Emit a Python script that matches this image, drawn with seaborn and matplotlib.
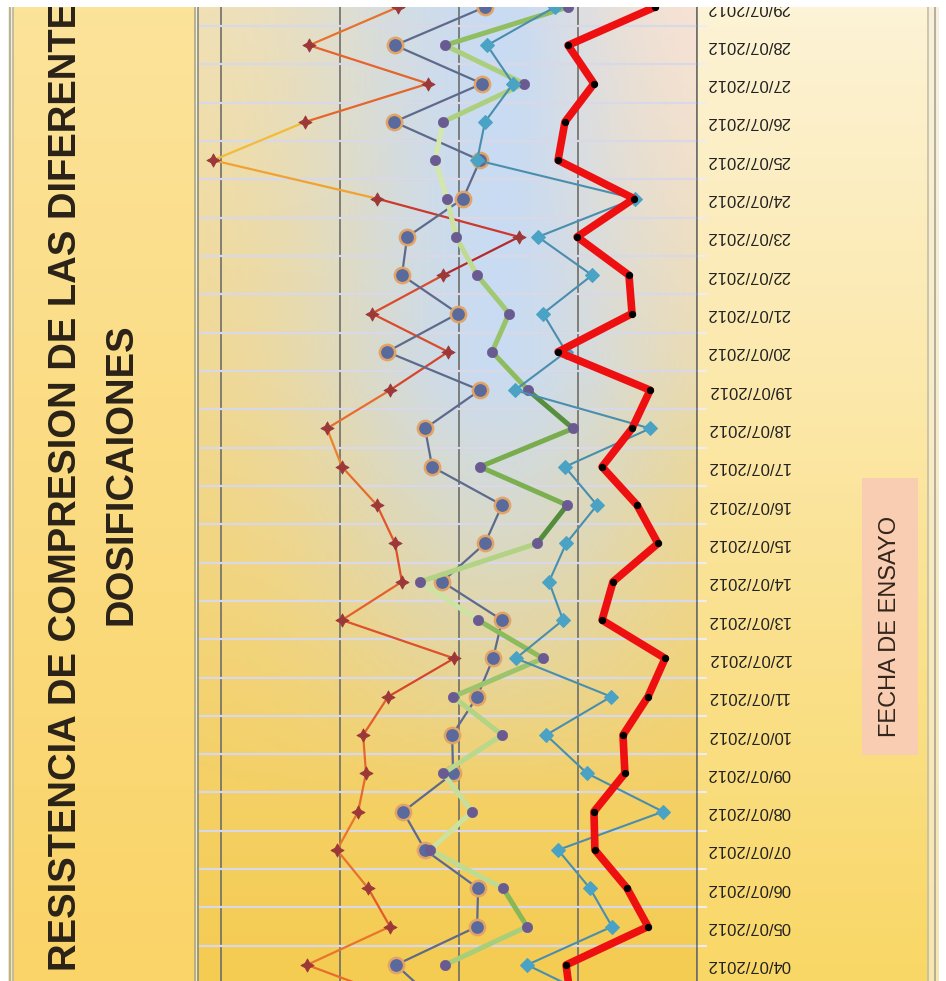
import matplotlib

matplotlib.use("Agg")
import matplotlib.pyplot as plt
import numpy as np
import pandas as pd
import seaborn as sns
from matplotlib.collections import LineCollection
from matplotlib.colors import LinearSegmentedColormap, Normalize, to_rgb
from matplotlib.patches import Rectangle

W, H = 946, 981

# fechas de ensayo (03/07 queda recortada abajo, 29/07 arriba)
FECHAS = ["03/07/2012", "04/07/2012", "05/07/2012", "06/07/2012", "07/07/2012",
          "08/07/2012", "09/07/2012", "10/07/2012", "11/07/2012", "12/07/2012",
          "13/07/2012", "14/07/2012", "15/07/2012", "16/07/2012", "17/07/2012",
          "18/07/2012", "19/07/2012", "20/07/2012", "21/07/2012", "22/07/2012",
          "23/07/2012", "24/07/2012", "25/07/2012", "26/07/2012", "27/07/2012",
          "28/07/2012", "29/07/2012"]

# resistencia por dosificacion
DOSIF_A = [220.6, 263.9, 229.0, 238.2, 251.3, 242.4, 239.1, 240.3, 229.8, 202.1,
           249.2, 224.0, 226.9, 234.5, 249.2, 255.5, 229.0, 204.6, 236.6, 206.7,
           174.8, 234.5, 303.4, 264.7, 213.0, 263.0, 225.6]
DOSIF_B = [208.8, 226.5, 192.4, 192.0, 214.3, 223.5, 202.5, 202.9, 192.4, 185.7,
           181.9, 207.1, 189.1, 181.9, 211.3, 214.3, 191.2, 230.3, 200.4, 224.0,
           221.8, 198.3, 191.2, 227.3, 190.3, 226.9, 189.1]
DOSIF_C = [np.nan, 205.9, 171.4, 181.5, 212.2, 194.5, 206.7, 181.9, 202.5, 164.7,
           192.0, 216.4, 167.2, 154.6, 191.2, 152.1, 171.0, 186.1, 179.0, 192.4,
           201.3, 205.0, 210.1, 206.7, 172.7, 205.9, 154.2]
DOSIF_D = [138.2, 171.4, 135.7, 145.0, 158.4, 114.3, 146.2, 163.4, 136.1, 176.1,
           156.3, 162.2, 155.0, 142.0, 155.5, 119.7, 176.5, 155.0, 164.7, 144.1,
           166.8, 126.1, 192.4, 189.1, 177.3, 188.2, 159.7]
DOSIF_E = [152.9, 155.0, 120.6, 129.4, 142.9, 143.3, 130.3, 131.1, 120.6, 113.4,
           139.9, 135.3, 116.4, 125.2, 139.9, 127.3, 119.7, 158.4, 127.3, 128.6,
           150.4, 126.5, 158.4, 155.5, 143.3, 154.2, 117.6]

GRID_VALUES = [100, 150, 200, 250, 300]

TITULO = "RESISTENCIA DE COMPRESION DE LAS DIFERENTES\nDOSIFICAIONES"
EJE = "FECHA DE ENSAYO"

sns.set_theme(style="white")
plt.rcParams["font.family"] = ["Liberation Sans", "DejaVu Sans"]

df = pd.DataFrame({"pos": np.arange(len(FECHAS)) - 1, "A": DOSIF_A, "B": DOSIF_B,
                   "C": DOSIF_C, "D": DOSIF_D, "E": DOSIF_E})


def vgrad(top, bottom, n=200):
    t = np.linspace(0, 1, n)[:, None, None]
    return np.array(to_rgb(top))[None, None, :] * (1 - t) + np.array(to_rgb(bottom))[None, None, :] * t


def plot_bg(rows=240, cols=160):
    v = np.linspace(1, 0, rows)[:, None]
    u = np.linspace(0, 1, cols)[None, :]
    y_top = np.array([0.95, 0.88, 0.70])
    y_bot = np.array([0.96, 0.80, 0.32])
    yel = y_bot[None, None, :] * (1 - v[..., None]) + y_top[None, None, :] * v[..., None]
    blue = np.array([0.79, 0.86, 0.95])
    b = np.clip((v - 0.18) / 0.45, 0, 1) * np.exp(-((u - 0.6) / 0.36) ** 2)
    img = yel * (1 - b[..., None]) + blue * b[..., None]
    pink = np.array([0.98, 0.89, 0.85])
    p = 0.85 * np.clip((v - 0.55) / 0.45, 0, 1) * np.clip((u - 0.65) / 0.35, 0, 1)
    img = img * (1 - p[..., None]) + pink * p[..., None]
    return np.clip(img, 0, 1)


def gradient_line(ax, x, y, cmap, vmin, vmax, lw, z):
    pts = np.column_stack([x, y])
    segs, vals = [], []
    for a, b in zip(pts[:-1], pts[1:]):
        if np.isnan(a).any() or np.isnan(b).any():
            continue
        segs.append([a, b])
        vals.append((a[0] + b[0]) / 2)
    lc = LineCollection(segs, cmap=cmap, norm=Normalize(vmin, vmax), linewidths=lw,
                        capstyle="round", joinstyle="round", zorder=z)
    lc.set_array(np.array(vals))
    ax.add_collection(lc)


fig = plt.figure(figsize=(W / 100, H / 100), dpi=100)
fig.patch.set_facecolor("white")

# fondo en coordenadas de pixel
bg = fig.add_axes([0, 0, 1, 1], zorder=0)
bg.imshow(vgrad("#F8F0DC", "#F6E6B0"), extent=(8, 938, H, 7), aspect="auto")
bg.imshow(vgrad("#FCE39A", "#FAD468"), extent=(14, 194, H, 7), aspect="auto")
bg.imshow(plot_bg(), extent=(198, 697, H, 7), aspect="auto")
bg.imshow(vgrad("#FDF3D6", "#F9D766"), extent=(697, 928, H, 7), aspect="auto")
for xv, c in [(10, "#A8A890"), (13, "#B8B498"), (195, "#A8A88C"), (928, "#C4BEA4"),
              (935, "#A8A490")]:
    bg.plot([xv, xv], [7, H], color=c, lw=1.2)
bg.add_patch(Rectangle((862, 478), 56, 277, facecolor="#F8CDB2", edgecolor="none"))
bg.text(890, 626, EJE, rotation=90, ha="center", va="center", fontsize=17,
        color="#33251C", family=["Liberation Sans", "DejaVu Sans"])
bg.text(94, 474, TITULO, rotation=90, ha="center", va="center", fontsize=27.5,
        fontweight="bold", color="#2A2218", linespacing=1.7, multialignment="center",
        family=["Liberation Sans", "DejaVu Sans"])
bg.set_xlim(0, W)
bg.set_ylim(H, 0)
bg.axis("off")

# grafico principal
ax = fig.add_axes([198 / W, 0, (697 - 198) / W, 974 / H], zorder=1)
ax.set_facecolor("none")

# degradados: claro a la izquierda (valores altos), oscuro a la derecha
cmap_a = LinearSegmentedColormap.from_list(
    "a", [(0, "#7A1A2A"), (0.2, "#C8302E"), (0.45, "#E35A2A"), (0.7, "#F0A232"), (1, "#F5E44A")])
cmap_c = LinearSegmentedColormap.from_list(
    "c", [(0, "#2F6E2A"), (0.35, "#82B452"), (0.65, "#BCDA8E"), (1, "#EAF2C8")])

# dosificacion A: linea degradada con marcadores estrella
gradient_line(ax, df["A"], df["pos"], cmap_a, 170, 310, 1.6, 3)
sns.scatterplot(data=df, x="A", y="pos", marker=(4, 1, 0), s=90, color="#9C3838",
                edgecolor="#9C3838", linewidth=0.6, ax=ax, zorder=4)

# dosificacion B
sns.lineplot(data=df, x="B", y="pos", sort=False, estimator=None, color="#5E6A8C", lw=1.6,
             marker="o", markersize=11, markerfacecolor="#5A6A9C", markeredgecolor="#E2A466",
             markeredgewidth=1.8, ax=ax, zorder=5)

# dosificacion C: verde degradado con puntos morados
gradient_line(ax, df["C"], df["pos"], cmap_c, 150, 220, 3.6, 6)
sns.scatterplot(data=df, x="C", y="pos", marker="o", s=55, color="#6A5A92",
                edgecolor="#6A5A92", linewidth=0.5, ax=ax, zorder=7)

# dosificacion D
sns.lineplot(data=df, x="D", y="pos", sort=False, estimator=None, color="#4A8EAE", lw=1.5,
             marker="D", markersize=7.5, markerfacecolor="#4AA3C4", markeredgecolor="#4AA3C4",
             ax=ax, zorder=8)

# dosificacion E
sns.lineplot(data=df, x="E", y="pos", sort=False, estimator=None, color="#EE1010", lw=5.5,
             marker="o", markersize=4.5, markerfacecolor="black", markeredgecolor="black",
             ax=ax, zorder=9)

ax.set_xticks(GRID_VALUES)
ax.set_xticklabels([])
ax.xaxis.grid(True, color="#6E6E6A", lw=1.2)
ax.set_yticks(df["pos"])
ax.set_yticks(df["pos"] + 0.5, minor=True)
ax.yaxis.grid(True, which="minor", color="#D8D8E6", lw=1.6)
ax.yaxis.grid(False, which="major")
ax.set_axisbelow(True)
ax.yaxis.tick_right()
ax.set_yticklabels(FECHAS, rotation=180, va="center", fontsize=12, color="#222222")
ax.tick_params(axis="y", which="major", length=0, pad=7)
ax.tick_params(axis="y", which="minor", length=7, width=1.5, color="#ECECF2", direction="out")
ax.tick_params(axis="x", length=0)
ax.set_xlabel("")
ax.set_ylabel("")
# limites despues de los ticks (set_yticks amplia la vista)
ax.set_xlim(309.7, 100)
ax.set_ylim(-0.42, 25.0)
for side in ["top", "bottom"]:
    ax.spines[side].set_visible(False)
ax.spines["left"].set_color("#8C8C78")
ax.spines["right"].set_color("#6E6E6A")
ax.spines["left"].set_linewidth(1.2)
ax.spines["right"].set_linewidth(1.2)

# franja blanca superior (la imagen original esta recortada)
fig.add_artist(Rectangle((0, 974 / H), 1, 7 / H, transform=fig.transFigure,
                         facecolor="white", edgecolor="none", zorder=50))

fig.savefig("out.png", dpi=100)
